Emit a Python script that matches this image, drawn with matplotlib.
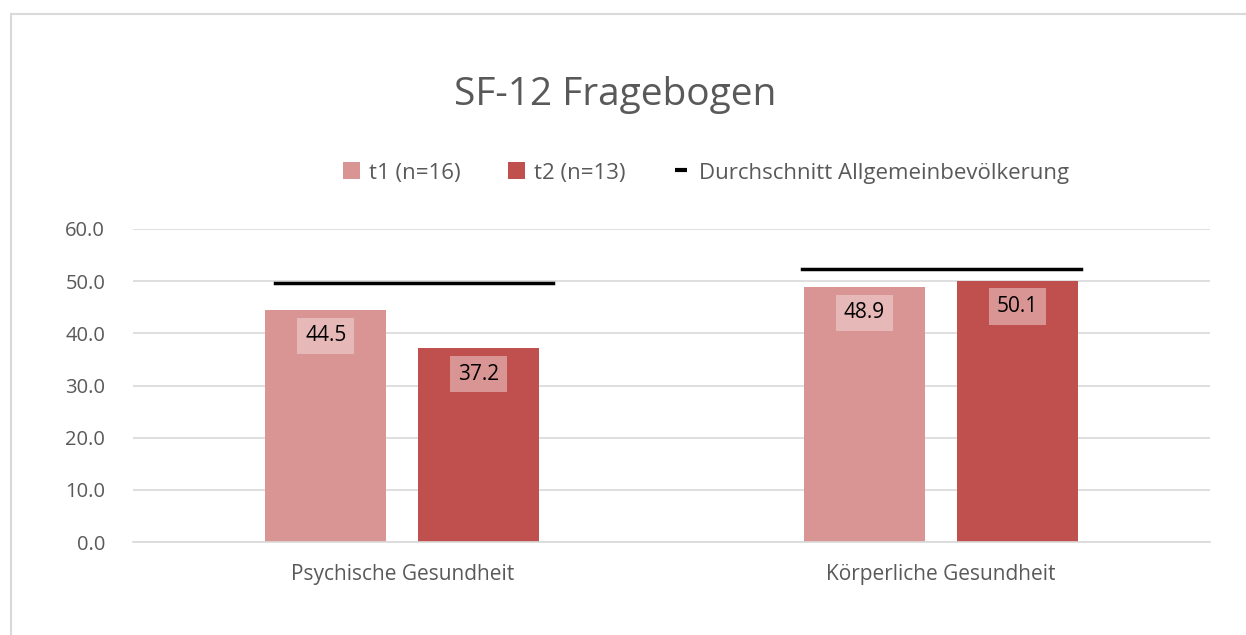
import matplotlib.pyplot as plt
import numpy as np
from matplotlib.patches import Rectangle, Patch
from matplotlib.lines import Line2D

categories = ['Psychische Gesundheit', 'Körperliche Gesundheit']
t1 = [44.5, 48.9]
t2 = [37.2, 50.1]
average = [49.6, 52.3]
series_names = ['t1 (n=16)', 't2 (n=13)', 'Durchschnitt Allgemeinbevölkerung']
yticks = [0, 10, 20, 30, 40, 50, 60]

c1 = '#D99594'
c2 = '#C0504D'
box1 = '#E6B8B7'
box2 = '#D99594'
grey = '#595959'

plt.rcParams['font.family'] = ['Open Sans', 'DejaVu Sans']

fig = plt.figure(figsize=(12.46, 6.35), dpi=100)
fig.patches.append(Rectangle((11 / 1246, -0.05), 1.1, 1 - 14 / 635 + 0.05,
                             transform=fig.transFigure, fill=False,
                             edgecolor='#D9D9D9', lw=1.5))

ax = fig.add_axes([133 / 1246, 1 - 542 / 635, (1210 - 133) / 1246, (542 - 229) / 635])

x = np.arange(len(categories))
w = 0.225
off = 0.142
b1 = ax.bar(x - off, t1, w, color=c1, zorder=2)
b2 = ax.bar(x + off, t2, w, color=c2, zorder=2)

# average lines (drawn per category)
line_spans = [(-0.236, 0.28), (-0.258, 0.26)]
for i, (a, b) in enumerate(line_spans):
    ax.plot([x[i] + a, x[i] + b], [average[i], average[i]], color='black', lw=2.5, zorder=3)

for bars, vals, bc in [(b1, t1, box1), (b2, t2, box2)]:
    for r, v in zip(bars, vals):
        ax.text(r.get_x() + r.get_width() / 2, v - 5.0, f'{v:.1f}', ha='center', va='center',
                fontsize=15, color='black', zorder=4,
                bbox=dict(boxstyle='square,pad=0.38', facecolor=bc, edgecolor='none'))

ax.set_xlim(-0.5, 1.5)
ax.set_ylim(0, 60)
ax.set_yticks(yticks)
ax.set_yticklabels([f'{v:.1f}' for v in yticks])
ax.set_xticks(x)
ax.set_xticklabels(categories)
ax.grid(axis='y', color='#D9D9D9', lw=1.2, zorder=0)
ax.set_axisbelow(True)
for s in ['top', 'right', 'left']:
    ax.spines[s].set_visible(False)
ax.spines['bottom'].set_color('#D9D9D9')
ax.spines['bottom'].set_linewidth(1.2)
ax.tick_params(axis='y', length=0, labelsize=14.5, colors=grey, pad=20)
ax.tick_params(axis='x', length=0, labelsize=15, colors=grey, pad=16)

fig.text(615 / 1246, 1 - 95 / 635, 'SF-12 Fragebogen', ha='center', va='center',
         fontsize=28, color=grey)

handles = [Patch(facecolor=c1), Patch(facecolor=c2),
           Line2D([], [], color='black', marker='_', markersize=8, markeredgewidth=3, ls='none')]
fig.legend(handles, series_names, loc='center', bbox_to_anchor=(706 / 1246, 1 - 173 / 635), ncol=3,
           frameon=False, fontsize=16, labelcolor=grey, handlelength=0.8,
           handleheight=0.8, handletextpad=0.4, columnspacing=2.1)

fig.savefig('out.png', dpi=100)
